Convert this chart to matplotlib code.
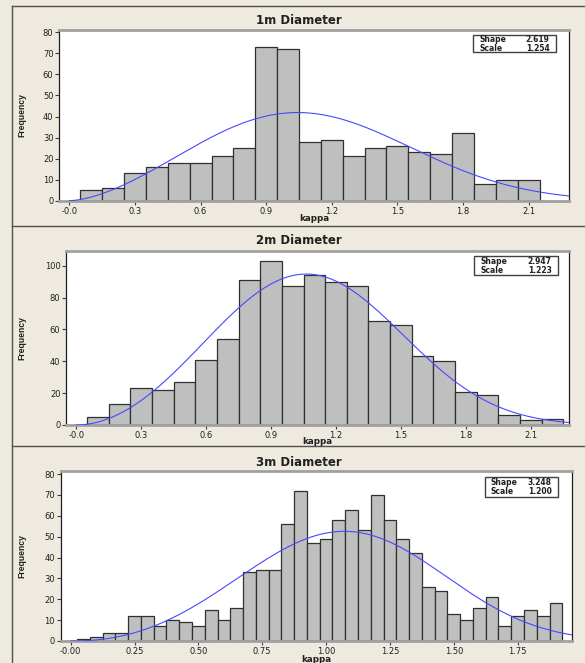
import matplotlib.pyplot as plt
import numpy as np
from matplotlib.patches import Rectangle

# histogram counts (bin width 0.1, 0.1, 0.05)
counts_1m = [5, 6, 13, 16, 18, 18, 21, 25, 73, 72, 28, 29, 21, 25, 26, 23, 22, 32, 8, 10, 10]
counts_2m = [5, 13, 23, 22, 27, 41, 54, 91, 103, 87, 94, 90, 87, 65, 63, 43, 40, 21, 19, 6, 3, 4]
counts_3m = [1, 2, 4, 4, 12, 12, 7, 10, 9, 7, 15, 10, 16, 33, 34, 34, 56, 72, 47, 49,
             58, 63, 53, 70, 58, 49, 42, 26, 24, 13, 10, 16, 21, 7, 12, 15, 12, 18]

first_center = [0.1, 0.1, 0.05]
bin_width = [0.1, 0.1, 0.05]

# fitted Weibull parameters shown in the boxes
shape = [2.619, 2.947, 3.248]
scale = [1.254, 1.223, 1.200]

titles = ["1m Diameter", "2m Diameter", "3m Diameter"]
xticks = [
    [0.0, 0.3, 0.6, 0.9, 1.2, 1.5, 1.8, 2.1],
    [0.0, 0.3, 0.6, 0.9, 1.2, 1.5, 1.8, 2.1],
    [0.0, 0.25, 0.5, 0.75, 1.0, 1.25, 1.5, 1.75],
]
xticklabels = [
    ["-0.0", "0.3", "0.6", "0.9", "1.2", "1.5", "1.8", "2.1"],
    ["-0.0", "0.3", "0.6", "0.9", "1.2", "1.5", "1.8", "2.1"],
    ["-0.00", "0.25", "0.50", "0.75", "1.00", "1.25", "1.50", "1.75"],
]
yticks = [range(0, 81, 10), range(0, 101, 20), range(0, 81, 10)]

# layout in pixels
W, H = 585, 663
BG = "#eeeae0"
boxes = [(59.3, 30.0, 569.3, 200.7), (66.3, 250.7, 569.3, 425.0), (60.7, 470.7, 572.3, 641.0)]
xlims = [(-0.046, 2.286), (-0.046, 2.278), (-0.039, 1.964)]
ylims = [(0, 81.1), (0, 109.4), (0, 81.6)]
title_y = [21, 241, 462]
xlabel_y = [219, 442, 659.3]
legend_box = [(0.811, 0.869, 0.973, 0.971), (0.811, 0.859, 0.977, 0.968), (0.829, 0.847, 0.972, 0.961)]

fig = plt.figure(figsize=(W / 100, H / 100), dpi=100)
fig.patch.set_facecolor(BG)

# outer frame and separators
fig.add_artist(plt.Line2D([12.3 / W, 12.3 / W], [0, 1 - 5.7 / H], color="#505050", lw=1))
for yy in [5.7, 225.5, 445.7]:
    fig.add_artist(plt.Line2D([12.3 / W, 1], [1 - yy / H, 1 - yy / H], color="#505050", lw=1))

counts_all = [counts_1m, counts_2m, counts_3m]
for i, counts in enumerate(counts_all):
    l, t, r, b = boxes[i]
    ax = fig.add_axes([l / W, 1 - b / H, (r - l) / W, (b - t) / H])
    ax.set_facecolor("white")

    counts = np.array(counts)
    centers = first_center[i] + bin_width[i] * np.arange(len(counts))
    ax.bar(centers, counts, width=bin_width[i], color="#bfbfbf", edgecolor="#303030", lw=0.9, zorder=2)

    # fitted Weibull curve scaled to the histogram
    k, lam = shape[i], scale[i]
    x = np.linspace(0, xlims[i][1], 300)
    pdf = (k / lam) * (x / lam) ** (k - 1) * np.exp(-(x / lam) ** k)
    ax.plot(x, pdf * counts.sum() * bin_width[i], color="#4848ff", lw=0.8, zorder=3)

    ax.set_xlim(*xlims[i])
    ax.set_ylim(*ylims[i])
    ax.set_xticks(xticks[i])
    ax.set_xticklabels(xticklabels[i])
    ax.set_yticks(list(yticks[i]))
    ax.tick_params(direction="out", length=3, width=0.8, color="#404040", labelsize=6,
                   labelcolor="#202020", pad=1.2)

    for s in ["left", "right"]:
        ax.spines[s].set_color("#202020")
        ax.spines[s].set_linewidth(0.9)
    for s in ["top", "bottom"]:
        ax.spines[s].set_color("#a0a0a0")
        ax.spines[s].set_linewidth(2)

    # parameter box
    x0, y0, x1, y1 = legend_box[i]
    ax.add_patch(Rectangle((x0, y0), x1 - x0, y1 - y0, transform=ax.transAxes, fill=True,
                           facecolor="white", edgecolor="#404040", lw=1, zorder=5))
    ym = (y0 + y1) / 2
    dy = (y1 - y0) / 4
    for j, (name, val) in enumerate([("Shape", shape[i]), ("Scale", scale[i])]):
        yy = ym + dy if j == 0 else ym - dy
        ax.text(x0 + 0.012, yy, name, transform=ax.transAxes, ha="left", va="center",
                fontsize=5.5, fontweight="bold", color="#202020", zorder=6)
        ax.text(x1 - 0.012, yy, f"{val:.3f}", transform=ax.transAxes, ha="right", va="center",
                fontsize=5.5, fontweight="bold", color="#202020", zorder=6)

    fig.text(298.5 / W, 1 - title_y[i] / H, titles[i], ha="center", va="center",
             fontsize=8.5, fontweight="bold", color="#202020")
    fig.text((l + r) / 2 / W, 1 - xlabel_y[i] / H, "kappa", ha="center", va="center",
             fontsize=6.3, fontweight="bold", color="#202020")
    fig.text(21.7 / W, 1 - (t + b) / 2 / H, "Frequency", ha="center", va="center", rotation=90,
             fontsize=6.2, fontweight="bold", family="Liberation Sans", color="#202020")

fig.savefig("out.png", dpi=100, facecolor=BG)
